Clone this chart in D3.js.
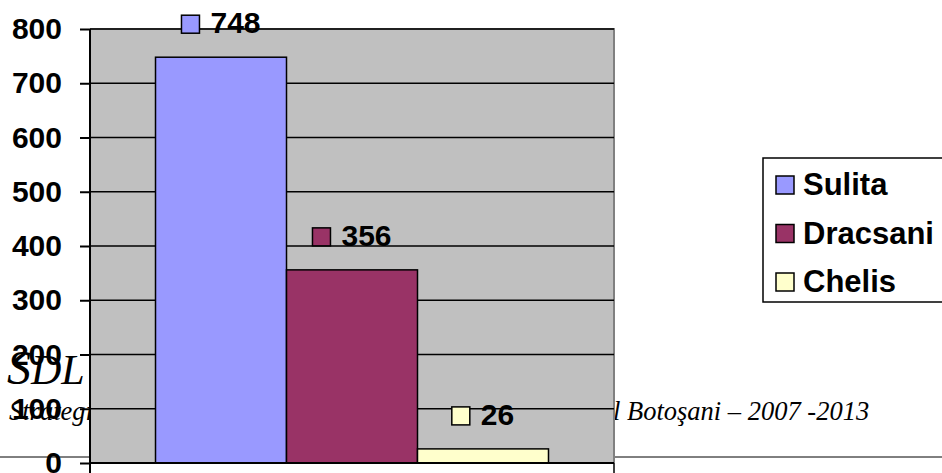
<!DOCTYPE html>
<html>
<head>
<meta charset="utf-8">
<script src="https://cdn.jsdelivr.net/npm/d3@7"></script>
<style>
  body { margin: 0; background: #fff; }
  svg { display: block; }
</style>
</head>
<body>
<svg id="chart" width="942" height="473"></svg>
<script>
// data
const seriesNames = ["Sulita", "Dracsani", "Chelis"];
const seriesValues = [748, 356, 26];
const seriesColors = ["#9999FF", "#993366", "#FFFFCC"];
const yTicks = [0, 100, 200, 300, 400, 500, 600, 700, 800];

const svg = d3.select("#chart");

const plot = { left: 90, right: 614, top: 29, bottom: 463 };

// document text behind the chart
svg.append("line")
    .attr("x1", 0).attr("x2", 942)
    .attr("y1", 457).attr("y2", 457)
    .attr("stroke", "#000").attr("stroke-width", 1);

const sdl = svg.append("text")
    .attr("x", 7).attr("y", 384)
    .style("font-family", "'Liberation Serif', 'Times New Roman', serif")
    .style("font-style", "italic")
    .attr("fill", "#000");
sdl.append("tspan").style("font-size", "48px").text("S");
sdl.append("tspan").style("font-size", "42px").text("DL");

const foot = svg.append("text")
    .attr("y", 420)
    .style("font-family", "'Liberation Serif', 'Times New Roman', serif")
    .style("font-style", "italic")
    .style("font-size", "26.5px")
    .attr("fill", "#000");
foot.append("tspan").attr("x", 9).text("Strategia de Dezvoltare Locală pentru Judeţu");
foot.append("tspan").attr("x", 613).text("l Botoşani – 2007 -2013");

// scales
const y = d3.scaleLinear().domain([0, 800]).range([plot.bottom, plot.top]);
const x0 = d3.scaleBand().domain([""]).range([plot.left, plot.right])
    .paddingInner(0).paddingOuter(0.1667);
const x1 = d3.scaleBand().domain(seriesNames).range([0, x0.bandwidth()]).padding(0);

// plot background
svg.append("rect")
    .attr("x", plot.left).attr("y", plot.top)
    .attr("width", plot.right - plot.left).attr("height", plot.bottom - plot.top)
    .attr("fill", "#C0C0C0");
svg.append("path")
    .attr("d", `M${plot.left},${plot.top}H${plot.right}V${plot.bottom}`)
    .attr("fill", "none").attr("stroke", "#808080").attr("stroke-width", 2);

// gridlines
svg.append("g")
    .selectAll("line")
    .data(yTicks.filter(d => d > 0))
    .join("line")
    .attr("x1", plot.left).attr("x2", plot.right)
    .attr("y1", d => y(d)).attr("y2", d => y(d))
    .attr("stroke", "#000").attr("stroke-width", 1.5);

// bars
svg.append("g")
    .selectAll("rect")
    .data(seriesNames)
    .join("rect")
    .attr("x", (d, i) => x0("") + x1(d))
    .attr("y", (d, i) => y(seriesValues[i]))
    .attr("width", x1.bandwidth())
    .attr("height", (d, i) => y(0) - y(seriesValues[i]))
    .attr("fill", (d, i) => seriesColors[i])
    .attr("stroke", "#000").attr("stroke-width", 1.5);

// y axis
const yAxis = svg.append("g")
    .attr("transform", `translate(${plot.left},0)`)
    .call(d3.axisLeft(y).tickValues(yTicks).tickSize(10).tickPadding(18).tickSizeOuter(0));
yAxis.select(".domain").attr("stroke", "#000").attr("stroke-width", 2);
yAxis.selectAll(".tick line").attr("stroke", "#000").attr("stroke-width", 2);
yAxis.selectAll(".tick text")
    .attr("fill", "#000")
    .style("font-family", "'Liberation Sans', Arial, sans-serif")
    .style("font-weight", "bold")
    .style("font-size", "30px");
yAxis.select(".domain").attr("d", `M0,${plot.top}V${plot.bottom + 12}`);

// x axis
svg.append("line")
    .attr("x1", plot.left).attr("x2", plot.right)
    .attr("y1", plot.bottom).attr("y2", plot.bottom)
    .attr("stroke", "#000").attr("stroke-width", 2);
svg.append("line")
    .attr("x1", plot.right).attr("x2", plot.right)
    .attr("y1", plot.bottom).attr("y2", plot.bottom + 12)
    .attr("stroke", "#000").attr("stroke-width", 1.5);

// data labels
const labels = svg.append("g")
    .selectAll("g")
    .data(seriesNames)
    .join("g");
labels.each(function (d, i) {
    const g = d3.select(this);
    const t = g.append("text")
        .attr("y", y(seriesValues[i]) - 24)
        .attr("fill", "#000")
        .style("font-family", "'Liberation Sans', Arial, sans-serif")
        .style("font-weight", "bold")
        .style("font-size", "30px")
        .text(seriesValues[i]);
    const tw = t.node().getComputedTextLength();
    const total = 18 + 11 + tw;
    const cx = x0("") + x1(d) + x1.bandwidth() / 2;
    const start = cx - total / 2;
    g.append("rect")
        .attr("x", start).attr("y", y(seriesValues[i]) - 24 - 18)
        .attr("width", 18).attr("height", 18)
        .attr("fill", seriesColors[i])
        .attr("stroke", "#000").attr("stroke-width", 1.5);
    t.attr("x", start + 29);
});

// legend
const legend = svg.append("g");
legend.append("rect")
    .attr("x", 763).attr("y", 158)
    .attr("width", 200).attr("height", 144)
    .attr("fill", "#fff")
    .attr("stroke", "#000").attr("stroke-width", 1.5);
const items = legend.selectAll("g.item")
    .data(seriesNames)
    .join("g")
    .attr("class", "item")
    .attr("transform", (d, i) => `translate(776,${176 + i * 48.5})`);
items.append("rect")
    .attr("width", 18).attr("height", 18)
    .attr("fill", (d, i) => seriesColors[i])
    .attr("stroke", "#000").attr("stroke-width", 1.5);
items.append("text")
    .attr("x", 27).attr("y", 19)
    .attr("fill", "#000")
    .style("font-family", "'Liberation Sans', Arial, sans-serif")
    .style("font-weight", "bold")
    .style("font-size", "31px")
    .text(d => d);
</script>
</body>
</html>
